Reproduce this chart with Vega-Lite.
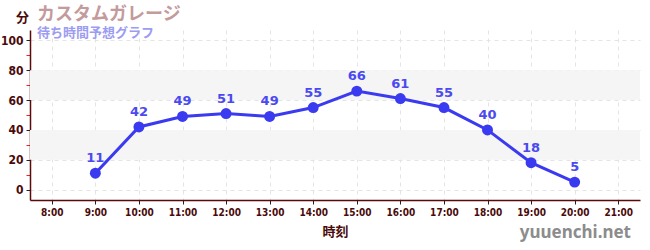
{
  "$schema": "https://vega.github.io/schema/vega-lite/v6.json",
  "autosize": {"type": "none"},
  "width": 610,
  "height": 170,
  "padding": {"left": 30, "top": 30, "right": 10, "bottom": 50},
  "background": "white",
  "config": {"view": {"stroke": null}, "font": "Noto Sans CJK JP", "axis": {"labelOverlap": false}},
  "title": {
    "text": "カスタムガレージ",
    "subtitle": "待ち時間予想グラフ",
    "anchor": "start",
    "frame": "group",
    "orient": "top",
    "offset": -14,
    "dx": 7,
    "dy": 15,
    "font": "Noto Sans CJK JP",
    "fontSize": 18,
    "fontWeight": "bold",
    "color": "#c49a9c",
    "subtitleFont": "Noto Sans CJK JP",
    "subtitleFontSize": 13,
    "subtitleFontWeight": "bold",
    "subtitleColor": "#9c9cf2",
    "subtitlePadding": 3
  },
  "datasets": {
    "waits": [
      {"hour": 9, "wait": 11},
      {"hour": 10, "wait": 42},
      {"hour": 11, "wait": 49},
      {"hour": 12, "wait": 51},
      {"hour": 13, "wait": 49},
      {"hour": 14, "wait": 55},
      {"hour": 15, "wait": 66},
      {"hour": 16, "wait": 61},
      {"hour": 17, "wait": 55},
      {"hour": 18, "wait": 40},
      {"hour": 19, "wait": 18},
      {"hour": 20, "wait": 5}
    ],
    "bands": [
      {"lo": 20, "hi": 40},
      {"lo": 60, "hi": 80}
    ],
    "mark": [
      {"label": "yuuenchi.net"}
    ]
  },
  "layer": [
    {
      "data": {"name": "bands"},
      "mark": {"type": "rect", "color": "#f5f5f5"},
      "encoding": {
        "y": {"field": "lo", "type": "quantitative", "scale": {"domain": [-7, 107], "nice": false, "zero": false},
          "axis": {
            "values": [0, 10, 20, 30, 40, 50, 60, 70, 80, 90, 100],
            "tickCount": 20,
            "labelExpr": "datum.value % 20 === 0 ? datum.label : ''",
            "labelOverlap": false,
            "title": "分",
            "titleAngle": 0,
            "titleX": -8,
            "titleY": -13,
            "titleAlign": "center",
            "titleBaseline": "middle",
            "titleFontSize": 13,
            "titleFontWeight": "bold",
            "titleColor": "#4a0a0a",
            "titleFont": "Noto Sans CJK JP",
            "domainColor": "#5a0a0a",
            "domainWidth": 1.5,
            "tickColor": {"condition": {"test": "datum.value % 20 === 0", "value": "#222222"}, "value": "#ee2222"},
            "tickSize": 4,
            "labelFont": "DejaVu Sans Condensed",
            "labelFontSize": 12,
            "labelFontWeight": "bold",
            "labelColor": "#4a0a0a",
            "labelPadding": 3,
            "grid": true,
            "gridColor": "#e4e4e4",
            "gridDash": [4, 4],
            "gridOpacity": {"condition": {"test": "datum.value % 20 === 0", "value": 1}, "value": 0}
          }
        },
        "y2": {"field": "hi"},
        "x": {"datum": 7.5, "type": "quantitative", "scale": {"domain": [7.5, 21.5], "nice": false, "zero": false},
          "axis": {
            "values": [8, 9, 10, 11, 12, 13, 14, 15, 16, 17, 18, 19, 20, 21],
            "tickCount": 20,
            "labelExpr": "datum.value + ':00'",
            "labelOverlap": false,
            "title": "時刻",
            "titleFont": "Noto Sans CJK JP",
            "titleFontSize": 13,
            "titleFontWeight": "bold",
            "titleColor": "#4a0a0a",
            "titlePadding": 8,
            "domainColor": "#5a0a0a",
            "domainWidth": 1.5,
            "tickColor": "#222222",
            "tickSize": 4,
            "labelFont": "DejaVu Sans Condensed",
            "labelFontSize": 10,
            "labelFontWeight": "bold",
            "labelColor": "#4a0a0a",
            "labelPadding": 3,
            "grid": true,
            "gridColor": "#e4e4e4",
            "gridDash": [4, 4]
          }
        },
        "x2": {"datum": 21.5}
      }
    },
    {
      "data": {"name": "waits"},
      "mark": {"type": "line", "color": "#3a3af0", "strokeWidth": 3},
      "encoding": {
        "x": {"field": "hour", "type": "quantitative"},
        "y": {"field": "wait", "type": "quantitative"}
      }
    },
    {
      "data": {"name": "waits"},
      "mark": {"type": "circle", "color": "#3a3af0", "size": 120, "opacity": 1},
      "encoding": {
        "x": {"field": "hour", "type": "quantitative"},
        "y": {"field": "wait", "type": "quantitative"}
      }
    },
    {
      "data": {"name": "waits"},
      "mark": {"type": "text", "color": "#4a4af0", "dy": -15, "fontSize": 13, "fontWeight": "bold", "font": "DejaVu Sans"},
      "encoding": {
        "x": {"field": "hour", "type": "quantitative"},
        "y": {"field": "wait", "type": "quantitative"},
        "text": {"field": "wait", "type": "quantitative"}
      }
    },
    {
      "data": {"name": "mark"},
      "mark": {"type": "text", "color": "#8c8c8c", "align": "right", "baseline": "middle", "dx": -9, "dy": 33, "fontSize": 17, "fontWeight": "bold", "font": "Noto Sans"},
      "encoding": {
        "x": {"datum": 21.5, "type": "quantitative"},
        "y": {"datum": -7, "type": "quantitative"},
        "text": {"field": "label", "type": "nominal"}
      }
    }
  ]
}
